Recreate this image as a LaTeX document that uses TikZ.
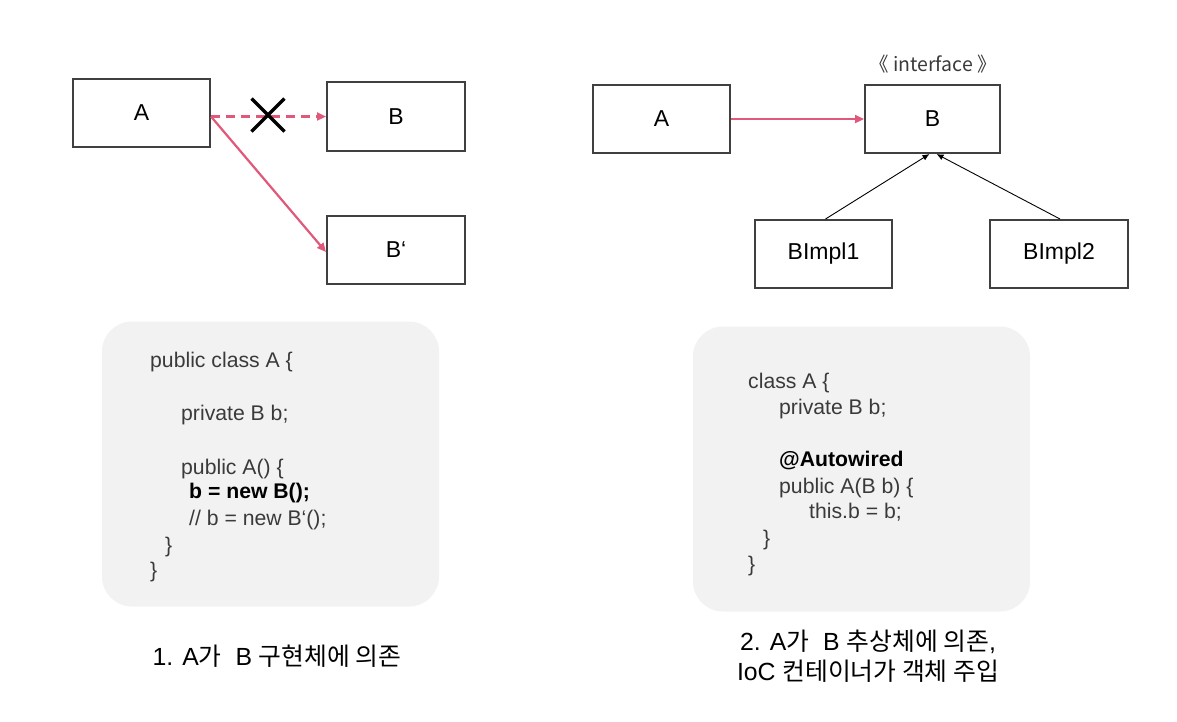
\documentclass[tikz,border=0pt]{standalone}
\usepackage{fontspec}
\setmainfont{Liberation Sans}
\newfontfamily\kr{Noto Sans CJK KR}
\usetikzlibrary{arrows.meta}
\definecolor{pinkc}{HTML}{E0587A}
\definecolor{boxc}{HTML}{404040}
\definecolor{codebg}{HTML}{F2F2F2}
\definecolor{codetxt}{HTML}{3A3A3A}
\tikzset{
  umlbox/.style={draw=boxc, line width=2pt, minimum width=137pt, minimum height=68pt, inner sep=0pt, font=\fontsize{23}{27}\selectfont},
  deparrow/.style={draw=pinkc, line width=2.2pt, -{Triangle[length=9pt,width=8pt]}},
  inherit/.style={draw=black, line width=0.9pt, -{Latex[length=7pt,width=6pt]}},
  codebox/.style={fill=codebg, rounded corners=30pt, minimum width=337pt, minimum height=285pt, inner sep=0pt},
  code/.style={anchor=base west, inner sep=0pt, text=codetxt, font=\fontsize{21.2}{24}\selectfont},
  codeb/.style={code, text=black, font=\fontsize{21.2}{24}\selectfont\bfseries},
  caption/.style={align=center, inner sep=0pt, font=\fontsize{24.8}{30}\selectfont},
}
\begin{document}
\begin{tikzpicture}[x=1pt,y=-1pt]
\useasboundingbox (0,0) rectangle (1177,721);
% ---------- left diagram ----------
\node[umlbox] (A1) at (141.5,113) {A};
\node[umlbox, minimum width=138pt, minimum height=69pt] (B1) at (396,116.5) {B};
\node[umlbox, minimum width=138pt] (B1p) at (396,250) {B\symbol{96}};
\draw[deparrow, dash pattern=on 9pt off 6pt] (A1.east |- B1.west) -- (B1.west);
\draw[deparrow] (A1.east |- B1.west) -- ([yshift=-2pt]B1p.west);
\coordinate (cross) at (268,115);
\draw[line width=3.4pt, black] ([shift={(-16.5,-16.5)}]cross) -- ([shift={(16.5,16.5)}]cross);
\draw[line width=3.4pt, black] ([shift={(-16.5,16.5)}]cross) -- ([shift={(16.5,-16.5)}]cross);
% ---------- right diagram ----------
\node[umlbox] (A2) at (661.5,119) {A};
\node[umlbox, minimum width=135pt] (B2) at (932.5,119) {B};
\node[text=codetxt, font=\kr\fontsize{19.5}{22}\selectfont, inner sep=0pt] (stereo) at (933,64) {《 interface 》};
\node[umlbox] (I1) at (823.5,254) {BImpl1};
\node[umlbox, minimum width=138pt] (I2) at (1059,254) {BImpl2};
\draw[deparrow] (A2.east) -- (B2.west);
\draw[inherit] ([xshift=2pt]I1.north) -- ([xshift=-3pt]B2.south);
\draw[inherit] ([xshift=1pt]I2.north) -- ([xshift=4pt]B2.south);
% ---------- left code ----------
\node[codebox] (cb1) at (270.5,464) {};
\node[code] (l1) at (150,367) {public class A \{};
\node[code] (l2) at (181,420) {private B b;};
\node[code] (l3) at (181,474) {public A() \{};
\node[codeb] (l4) at (189,498) {b = new B();};
\node[code] (l5) at (189,525) {// b = new B\symbol{96}();};
\node[code] (l6) at (165,552) {\}};
\node[code] (l7) at (150,577) {\}};
% ---------- right code ----------
\node[codebox] (cb2) at (861.5,469) {};
\node[code] (r1) at (748,388) {class A \{};
\node[code] (r2) at (779,414) {private B b;};
\node[codeb] (r3) at (779,466) {@Autowired};
\node[code] (r4) at (779,493) {public A(B b) \{};
\node[code] (r5) at (809,518) {this.b = b;};
\node[code] (r6) at (763,545) {\}};
\node[code] (r7) at (748,571) {\}};
% ---------- captions ----------
\node[caption] (cap1) at (277,656) {1. A{\kr 가} \ B {\kr 구현체에 의존}};
\node[caption] (cap2) at (868,656) {2. A{\kr 가} \ B {\kr 추상체에 의존},\\IoC {\kr 컨테이너가 객체 주입}};
\end{tikzpicture}
\end{document}
